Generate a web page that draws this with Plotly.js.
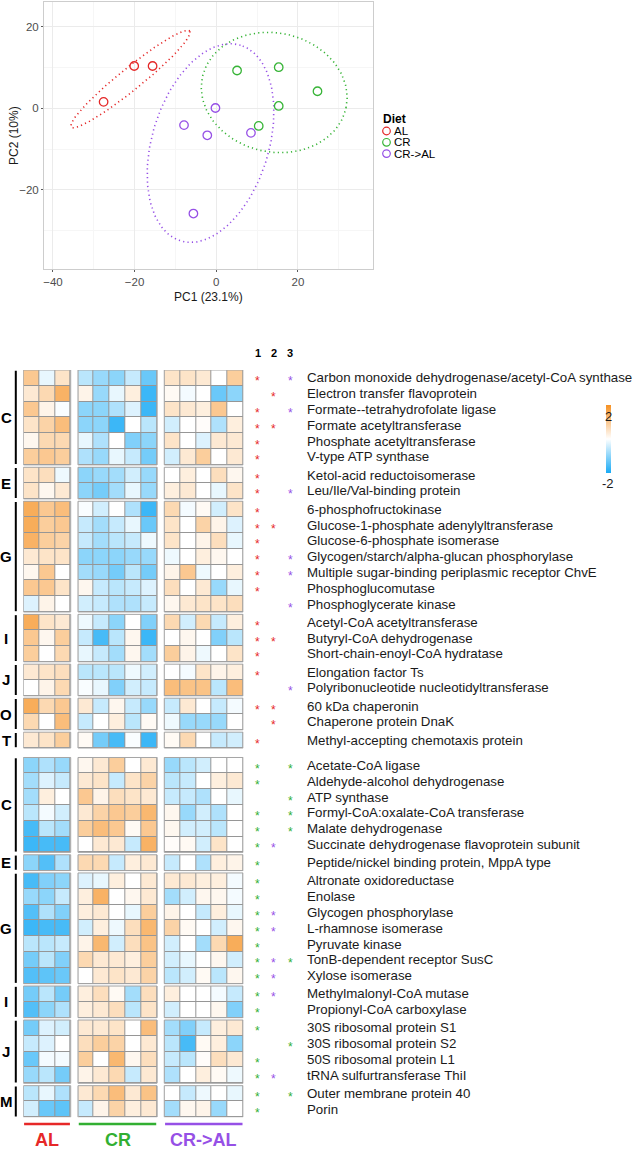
<!DOCTYPE html>
<html>
<head>
<meta charset="utf-8">
<script src="https://cdn.plot.ly/plotly-3.0.1.min.js"></script>
<style>html,body{margin:0;padding:0;background:#fff;}#chart{width:634px;height:1149px;}</style>
</head>
<body>
<div id="chart"></div>
<script>
// ---------------- PCA data ----------------
const dietGroups = ['AL', 'CR', 'CR->AL'];
const dietColors = ['rgb(228,40,40)', 'rgb(55,180,55)', 'rgb(150,80,230)'];
const pc1AL = [-27.6, -20.1, -15.6];
const pc2AL = [1.6, 10.4, 10.4];
const pc1CR = [5.1, 15.3, 15.3, 10.4, 24.8];
const pc2CR = [9.3, 10.1, 0.6, -4.3, 4.2];
const pc1CRAL = [-0.2, -7.9, -2.2, 8.5, -5.6];
const pc2CRAL = [0.1, -4.1, -6.6, -6.0, -25.8];
// ellipse parameters (center, semi-axes, rotation in degrees)
const ellCx = [-21.0, 14.2, -1.4];
const ellCy = [7.2, 3.9, -8.5];
const ellA = [18.7, 18.0, 25.1];
const ellB = [2.7, 14.6, 14.3];
const ellAngle = [39, -12, 73];

// ---------------- Heatmap data ----------------
const topGroups = ['C', 'E', 'G', 'I', 'J', 'O', 'T'];
const topGroupSizes = [6, 2, 7, 3, 2, 2, 1];
const bottomGroups = ['C', 'E', 'G', 'I', 'J', 'M'];
const bottomGroupSizes = [6, 1, 7, 2, 4, 2];
const proteins = [
 'Carbon monoxide dehydrogenase/acetyl-CoA synthase','Electron transfer flavoprotein','Formate--tetrahydrofolate ligase','Formate acetyltransferase','Phosphate acetyltransferase','V-type ATP synthase',
 'Ketol-acid reductoisomerase','Leu/Ile/Val-binding protein',
 '6-phosphofructokinase','Glucose-1-phosphate adenylyltransferase','Glucose-6-phosphate isomerase','Glycogen/starch/alpha-glucan phosphorylase','Multiple sugar-binding periplasmic receptor ChvE','Phosphoglucomutase','Phosphoglycerate kinase',
 'Acetyl-CoA acetyltransferase','Butyryl-CoA dehydrogenase','Short-chain-enoyl-CoA hydratase',
 'Elongation factor Ts','Polyribonucleotide nucleotidyltransferase',
 '60 kDa chaperonin','Chaperone protein DnaK',
 'Methyl-accepting chemotaxis protein',
 'Acetate-CoA ligase','Aldehyde-alcohol dehydrogenase','ATP synthase','Formyl-CoA:oxalate-CoA transferase','Malate dehydrogenase','Succinate dehydrogenase flavoprotein subunit',
 'Peptide/nickel binding protein, MppA type',
 'Altronate oxidoreductase','Enolase','Glycogen phosphorylase','L-rhamnose isomerase','Pyruvate kinase','TonB-dependent receptor SusC','Xylose isomerase',
 'Methylmalonyl-CoA mutase','Propionyl-CoA carboxylase',
 '30S ribosomal protein S1','30S ribosomal protein S2','50S ribosomal protein L1','tRNA sulfurtransferase ThiI',
 'Outer membrane protein 40','Porin'
];
const valuesAL = [
 [1.0,-0.2,0.5],[0.4,0.7,1.4],[1.0,0.2,-0.05],[0.5,0.8,1.2],[0.15,0.7,0.7],[0.9,1.0,0.9],
 [0.5,0.6,-0.15],[0.5,0.15,0.4],
 [1.5,1.0,1.2],[1.5,0.9,1.0],[1.4,0.9,0.8],[0.4,0.5,0.5],[0.15,1.0,0.0],[1.0,1.0,0.5],[-0.3,0.2,0.0],
 [1.5,0.5,0.4],[1.0,0.15,0.9],[0.9,0.0,0.7],
 [0.4,0.5,0.6],[0.0,0.2,0.7],
 [1.5,0.7,1.0],[0.7,0.0,1.2],
 [0.4,0.5,0.9],
 [-1.0,-0.7,-0.9],[-0.8,-0.3,-0.5],[-0.8,0.3,0.0],[-0.6,-0.1,-0.4],[-1.6,-0.6,-0.8],[-1.7,-1.6,-1.6],
 [-1.0,-1.5,-0.7],
 [-1.6,-1.1,-1.0],[-0.9,-1.0,-0.5],[-1.5,-0.7,-1.1],[-1.7,-1.6,-1.6],[-0.6,-0.6,-0.5],[-1.2,-0.6,-1.1],[-1.5,-1.4,-1.3],
 [-1.2,-0.6,-1.2],[-1.5,-1.0,-0.7],
 [-1.2,-0.3,-0.4],[-0.5,-0.3,0.0],[-1.3,-0.1,-0.1],[-0.9,-0.6,-1.2],
 [-0.6,-0.2,-0.7],[-0.4,-1.3,-1.4]
];
const valuesCR = [
 [-0.6,-0.9,-1.0,-0.5,-1.3],[0.2,-0.9,-0.2,0.3,-1.7],[-1.0,-1.0,-0.7,-0.3,-1.7],[-1.0,-1.0,-1.7,0.0,-0.6],[-0.2,-0.7,0.0,-1.1,-1.0],[-0.7,-0.9,-0.2,-0.5,-1.2],
 [-1.0,-0.9,-0.8,-0.4,-0.9],[-1.0,-1.2,-0.8,-0.2,-0.9],
 [-0.05,-0.4,0.0,-0.7,-1.7],[-0.5,-0.8,-0.5,-0.2,-1.3],[-0.5,-0.8,-0.6,-0.5,-0.15],[-1.0,-1.0,-1.0,-0.9,-0.9],[-0.8,-0.9,-1.2,-0.6,-1.2],[0.15,-0.5,-0.6,-0.5,-0.3],[-0.4,-0.5,-0.7,-0.7,-0.5],
 [-0.15,-0.5,-1.0,0.0,-1.1],[-0.5,-1.6,-0.6,0.15,-1.7],[-0.2,-0.5,-0.8,0.15,-0.8],
 [-0.6,-0.6,-0.6,-0.15,-0.4],[-0.05,-0.2,-1.1,-0.4,-0.5],
 [0.4,-0.5,0.15,-0.5,-0.9],[-0.5,0.0,0.3,-0.6,0.1],
 [0.1,-1.2,-1.6,-0.05,-1.7],
 [0.15,0.4,0.9,0.0,0.4],[0.4,0.5,-0.5,0.5,0.8],[1.0,0.2,0.6,0.5,0.4],[0.4,0.8,1.0,0.9,1.3],[0.9,1.2,1.0,0.1,1.0],[0.0,0.4,0.4,-0.5,1.4],
 [0.7,0.7,-0.5,0.3,0.4],
 [-0.3,-0.2,0.3,0.0,0.4],[0.3,1.4,0.0,0.15,0.4],[0.3,0.4,0.0,-0.2,0.9],[-0.4,0.3,-0.15,0.6,1.3],[0.2,1.3,-0.4,0.6,1.1],[0.7,0.4,0.4,0.3,0.9],[0.0,0.4,0.5,0.4,0.8],
 [0.3,0.6,0.1,-0.8,0.6],[0.3,0.4,0.6,-0.6,0.5],
 [0.4,0.4,0.5,0.0,1.2],[0.6,0.9,0.8,0.0,0.4],[0.9,0.0,1.3,0.15,0.6],[0.2,0.4,0.7,-0.5,0.4],
 [0.4,0.7,1.2,0.4,1.1],[-0.5,0.2,0.8,0.3,0.4]
];
const valuesCRAL = [
 [0.5,0.5,0.4,0.0,0.9],[0.1,-0.1,0.0,-1.3,-1.0],[0.5,0.4,0.3,1.0,0.0],[-0.4,0.0,0.05,-0.7,0.3],[0.5,0.0,-0.3,0.4,0.4],[-0.4,0.4,0.9,0.0,0.4],
 [0.0,0.3,0.0,0.6,0.15],[0.3,0.4,0.0,-0.2,0.5],
 [0.7,-0.1,0.1,-0.4,0.5],[0.5,0.0,0.8,0.2,-0.3],[0.5,0.0,0.2,0.6,-0.2],[-0.15,0.0,0.3,0.15,0.0],[0.2,1.0,-0.15,0.0,0.3],[0.6,0.0,0.4,-0.9,-0.2],[0.15,0.4,0.5,0.5,0.6],
 [0.7,-0.4,0.7,-0.5,0.3],[0.0,0.15,0.0,-1.1,-0.6],[0.9,0.2,-0.15,0.0,0.5],
 [0.0,-0.1,0.5,0.2,0.3],[1.2,1.1,1.1,-0.6,1.2],
 [-0.5,0.4,0.0,-0.5,-0.1],[-0.15,-0.9,-0.9,-0.9,0.0],
 [0.1,0.7,0.0,-0.5,-0.4],
 [-0.9,-0.6,-0.4,0.0,0.0],[-0.6,-0.5,0.0,0.3,0.4],[-0.5,-0.5,-0.7,0.0,-0.2],[0.15,-0.9,-0.4,-0.7,0.0],[0.15,-0.4,-0.4,-0.6,0.0],[0.05,0.1,-0.4,0.5,0.0],
 [-0.5,0.0,-0.7,0.3,0.2],
 [0.4,0.4,0.3,0.3,-0.1],[-0.8,-0.4,0.15,0.15,-0.1],[0.2,0.0,-0.5,0.3,-0.2],[0.8,0.1,0.0,-0.4,0.15],[-0.4,0.0,-0.8,0.7,1.5],[-0.4,-0.2,0.0,0.15,-0.4],[-0.6,-0.4,0.1,-0.6,0.15],
 [0.3,0.0,0.0,-0.1,-0.5],[-0.4,0.0,0.0,0.15,-1.1],
 [-0.8,-1.1,-0.5,0.3,0.4],[-0.6,-1.6,0.1,0.3,-1.0],[-0.5,-0.6,0.05,0.6,0.4],[-0.7,0.0,0.3,0.1,-0.15],
 [0.0,-0.5,-0.15,0.0,-0.2],[-0.8,0.15,0.2,-0.9,0.0]
];
// significance markers per comparison column (r = red, g = green, p = purple)
const sig1 = ['r','','r','r','r','r','r','r','r','r','r','r','r','r','','r','r','r','r','','r','','r',
              'g','g','','g','g','g','g','g','g','g','g','g','g','g','g','g','g','','g','g','g','g'];
const sig2 = ['','r','','r','','','','','','r','','','','','','','r','','','','r','r','',
              '','','','','','p','','','','p','p','','p','p','p','','','','','p','',''];
const sig3 = ['p','','p','','','','','p','','','','p','p','','p','','','','','p','','','',
              'g','','g','g','g','','','','','','','','g','','','','','g','','','g',''];
const sigHeader = ['1', '2', '3'];
const blockNames = ['AL', 'CR', 'CR->AL'];
const blockSizes = [3, 5, 5];
const colorbarTicks = ['2', '-2'];

// ---------------- Layout helpers ----------------
const W = 634, H = 1149;
const px = v => v / W;
const py = v => 1 - v / H;
const FONT = 'Liberation Sans, Arial, Helvetica, sans-serif';
const sigColor = {r: 'rgb(230,40,40)', g: 'rgb(50,175,50)', p: 'rgb(150,80,230)'};

// column bins (gap bins between blocks)
const colGap = 0.46;
let xEdges = [0], xPos = 0, colBins = [], blockRanges = [], c = 0;
blockSizes.forEach((n, bi) => {
  if (bi > 0) { xPos += colGap; xEdges.push(xPos); colBins.push(-1); }
  const start = xPos;
  for (let k = 0; k < n; k++) { xPos += 1; xEdges.push(xPos); colBins.push(c++); }
  blockRanges.push([start, xPos]);
});
const xTotal = xPos;

// row bins
const smallGap = 0.15, bigGap = 0.6;
const allGroups = topGroups.map((g, i) => ({name: g, size: topGroupSizes[i], sec: 0}))
  .concat(bottomGroups.map((g, i) => ({name: g, size: bottomGroupSizes[i], sec: 1})));
let yEdges = [0], yPos = 0, rowBins = [], rowCenter = [], groupSpans = [], r = 0;
allGroups.forEach((g, gi) => {
  if (gi > 0) {
    yPos += (g.sec !== allGroups[gi - 1].sec) ? bigGap : smallGap;
    yEdges.push(yPos); rowBins.push(-1);
  }
  const top = yPos;
  for (let k = 0; k < g.size; k++) { yPos += 1; yEdges.push(yPos); rowBins.push(r); rowCenter[r] = yPos - 0.5; r++; }
  groupSpans.push({name: g.name, top: top, bottom: yPos});
});
const yTotal = yPos;

const zData = rowBins.map(ri => {
  if (ri < 0) return colBins.map(() => null);
  const full = valuesAL[ri].concat(valuesCR[ri], valuesCRAL[ri]);
  return colBins.map(ci => ci < 0 ? null : full[ci]);
});
const zBack = rowBins.map(ri => colBins.map(ci => (ri < 0 || ci < 0) ? null : 1));

// ---------------- Traces ----------------
const traces = [];
const pcX = [pc1AL, pc1CR, pc1CRAL], pcY = [pc2AL, pc2CR, pc2CRAL];
dietGroups.forEach((g, i) => {
  const ex = [], ey = [];
  const th = ellAngle[i] * Math.PI / 180;
  for (let k = 0; k <= 160; k++) {
    const t = 2 * Math.PI * k / 160;
    const u = ellA[i] * Math.cos(t), v = ellB[i] * Math.sin(t);
    ex.push(ellCx[i] + u * Math.cos(th) - v * Math.sin(th));
    ey.push(ellCy[i] + u * Math.sin(th) + v * Math.cos(th));
  }
  traces.push({type: 'scatter', mode: 'lines', x: ex, y: ey, xaxis: 'x', yaxis: 'y',
    line: {color: dietColors[i], width: 1.6, dash: '1.2px,3.2px'}, hoverinfo: 'skip', showlegend: false});
});
dietGroups.forEach((g, i) => {
  traces.push({type: 'scatter', mode: 'markers', x: pcX[i], y: pcY[i], name: g, xaxis: 'x', yaxis: 'y',
    marker: {symbol: 'circle-open', size: 8.5, color: dietColors[i], line: {width: 1.3}}, showlegend: false});
});
traces.push({type: 'heatmap', x: xEdges, y: yEdges, z: zBack, xaxis: 'x2', yaxis: 'y2',
  colorscale: [[0, 'rgb(150,150,150)'], [1, 'rgb(150,150,150)']], zmin: 0, zmax: 2, showscale: false, hoverinfo: 'skip'});
traces.push({type: 'heatmap', x: xEdges, y: yEdges, z: zData, xaxis: 'x2', yaxis: 'y2', xgap: 1, ygap: 1,
  zmin: -2, zmax: 2,
  colorscale: [[0, 'rgb(25,170,245)'], [0.5, 'rgb(255,255,255)'], [1, 'rgb(246,145,35)']],
  colorbar: {x: px(606), xanchor: 'left', xpad: 0, ypad: 0, y: 1 - 438.5 / H, yanchor: 'middle', len: 68.4 / H, lenmode: 'fraction',
    thickness: 5, thicknessmode: 'pixels', outlinewidth: 0, showticklabels: false, ticks: ''}});

// ---------------- Annotations & shapes ----------------
const annotations = [];
const shapes = [];
annotations.push({xref: 'paper', yref: 'paper', x: px(208.5), y: py(297), text: 'PC1 (23.1%)', showarrow: false,
  font: {family: FONT, size: 12, color: '#1a1a1a'}, xanchor: 'center', yanchor: 'middle'});
annotations.push({xref: 'paper', yref: 'paper', x: px(14), y: py(136), text: 'PC2 (10%)', showarrow: false, textangle: -90,
  font: {family: FONT, size: 12, color: '#1a1a1a'}, xanchor: 'center', yanchor: 'middle'});
// manual legend
annotations.push({xref: 'paper', yref: 'paper', x: px(381), y: py(119.5), text: '<b>Diet</b>', showarrow: false,
  font: {family: FONT, size: 12, color: '#000'}, xanchor: 'left', yanchor: 'middle'});
const legY = [131, 142.3, 153.6];
dietGroups.forEach((g, i) => {
  annotations.push({xref: 'paper', yref: 'paper', x: px(391.5), y: py(legY[i]), text: g, showarrow: false,
    font: {family: FONT, size: 11.5, color: '#000'}, xanchor: 'left', yanchor: 'middle'});
  shapes.push({type: 'circle', xref: 'paper', yref: 'paper', xsizemode: 'pixel', ysizemode: 'pixel',
    xanchor: px(386.5), yanchor: py(legY[i]), x0: -3.8, x1: 3.8, y0: -3.8, y1: 3.8,
    line: {color: dietColors[i], width: 1.2}});
});
// header
const sigX = [257.7, 273.9, 290.3];
sigHeader.forEach((h, i) => annotations.push({xref: 'paper', yref: 'paper', x: px(sigX[i]), y: py(353.3), text: '<b>' + h + '</b>',
  showarrow: false, font: {family: FONT, size: 11, color: '#000'}, xanchor: 'center', yanchor: 'middle'}));
// row labels and asterisks
const sigs = [sig1, sig2, sig3];
proteins.forEach((p, i) => {
  annotations.push({xref: 'paper', yref: 'y2', x: px(305), y: rowCenter[i], text: p, showarrow: false,
    font: {family: FONT, size: 13.3, color: '#1a1a1a'}, xanchor: 'left', yanchor: 'middle'});
  sigs.forEach((s, j) => {
    if (s[i]) annotations.push({xref: 'paper', yref: 'y2', x: px(sigX[j]), y: rowCenter[i], yshift: -3.5, text: '*', showarrow: false,
      font: {family: FONT, size: 12, color: sigColor[s[i]]}, xanchor: 'center', yanchor: 'middle'});
  });
});
// group letters, brackets and block frames
groupSpans.forEach(gs => {
  annotations.push({xref: 'paper', yref: 'y2', x: px(6), y: (gs.top + gs.bottom) / 2, text: '<b>' + gs.name + '</b>', showarrow: false,
    font: {family: FONT, size: 15, color: '#000'}, xanchor: 'center', yanchor: 'middle'});
  shapes.push({type: 'line', xref: 'paper', yref: 'y2', x0: px(15.8), x1: px(15.8), y0: gs.top + 0.05, y1: gs.bottom - 0.05,
    line: {color: '#000', width: 2}});
  blockRanges.forEach(br => shapes.push({type: 'rect', xref: 'x2', yref: 'y2', x0: br[0], x1: br[1], y0: gs.top, y1: gs.bottom,
    line: {color: 'rgb(165,165,165)', width: 1}}));
});
// block underlines and names
blockNames.forEach((b, i) => {
  const br = blockRanges[i];
  shapes.push({type: 'line', xref: 'x2', yref: 'paper', x0: br[0] + 0.05, x1: br[1] - 0.05, y0: py(1124), y1: py(1124),
    line: {color: sigColor[['r', 'g', 'p'][i]], width: 2.5}});
  annotations.push({xref: 'x2', yref: 'paper', x: (br[0] + br[1]) / 2, y: py(1140), text: '<b>' + b + '</b>', showarrow: false,
    font: {family: FONT, size: 18, color: sigColor[['r', 'g', 'p'][i]]}, xanchor: 'center', yanchor: 'middle'});
});
// colorbar labels
annotations.push({xref: 'paper', yref: 'paper', x: px(608.5), y: py(416.5), text: colorbarTicks[0], showarrow: false,
  font: {family: FONT, size: 13, color: '#1a1a1a'}, xanchor: 'center', yanchor: 'middle'});
annotations.push({xref: 'paper', yref: 'paper', x: px(607.5), y: py(483), text: colorbarTicks[1], showarrow: false,
  font: {family: FONT, size: 13, color: '#1a1a1a'}, xanchor: 'center', yanchor: 'middle'});

const axisCommon = {showline: true, mirror: true, linecolor: 'rgb(205,205,205)', linewidth: 1, zeroline: false,
  gridcolor: 'rgb(235,235,235)', gridwidth: 1, ticks: 'outside', ticklen: 2, tickcolor: 'rgb(90,90,90)',
  tickfont: {family: FONT, size: 11.5, color: '#4d4d4d'}, tickmode: 'linear', tick0: 0, dtick: 20,
  minor: {showgrid: true, dtick: 10, tick0: 0, gridcolor: 'rgb(246,246,246)', gridwidth: 1}};

const layout = {
  width: W, height: H, margin: {l: 0, r: 0, t: 0, b: 0},
  paper_bgcolor: '#fff', plot_bgcolor: '#fff', showlegend: false,
  font: {family: FONT},
  xaxis: Object.assign({}, axisCommon, {domain: [px(44), px(373)], range: [-42.2, 38.4], anchor: 'y'}),
  yaxis: Object.assign({}, axisCommon, {domain: [1 - 269 / H, 1 - 2 / H], range: [-39.4, 26.1], anchor: 'x'}),
  xaxis2: {domain: [px(23.3), px(243.3)], range: [0, xTotal], anchor: 'y2', visible: false, fixedrange: true},
  yaxis2: {domain: [1 - 1117.3 / H, 1 - 370 / H], range: [yTotal, 0], anchor: 'x2', visible: false, fixedrange: true},
  annotations: annotations, shapes: shapes
};
Plotly.newPlot('chart', traces, layout, {displayModeBar: false, responsive: false});
</script>
</body>
</html>
